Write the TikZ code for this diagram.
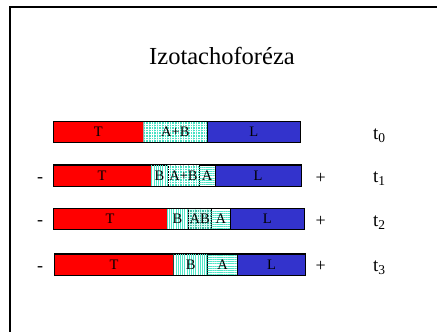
\documentclass[tikz,border=0pt]{standalone}
\usepackage{fontspec}
\setmainfont{Liberation Serif}
\usetikzlibrary{patterns.meta}
\definecolor{tred}{RGB}{255,0,0}
\definecolor{lblue}{RGB}{51,51,204}
\definecolor{turq}{RGB}{70,225,195}
\definecolor{turqline}{RGB}{80,230,200}
\tikzset{
  seg/.style={draw=black,line width=0.6pt,minimum height=21pt,inner sep=0pt,
    font=\fontsize{14.5}{14.5}\selectfont,text=black},
  redseg/.style={fill=tred},
  blueseg/.style={fill=lblue},
  mixseg/.style={fill=turq,postaction={pattern={Hatch[angle=0,distance=2.6pt,line width=0.6pt]},pattern color=white}},
  mixdense/.style={fill=turq!85!black,postaction={pattern={Hatch[angle=0,distance=2.4pt,line width=0.5pt]},pattern color=white!80!turq}},
  bseg/.style={fill=white,postaction={pattern={Lines[angle=90,distance=2.2pt,line width=0.8pt]},pattern color=turqline}},
  aseg/.style={fill=white,postaction={pattern={Lines[angle=0,distance=2.2pt,line width=0.8pt]},pattern color=turqline}},
  barline/.style={draw=black,line width=0.9pt},
  sign/.style={font=\fontsize{18}{18}\selectfont,anchor=base,inner sep=0pt},
  tlab/.style={font=\fontsize{19}{19}\selectfont,anchor=base west,inner sep=0pt},
  frame/.style={draw=black,line width=1.6pt}
}
\newcommand\seg[6]{%
  \pgfmathsetmacro\segw{#3-#2}%
  \node[seg,#5,minimum width=\segw pt,anchor=north west] (#1) at (#2,#4) {#6};}
\newcommand\tsub[1]{t\raisebox{-3pt}{\fontsize{13.5}{14}\selectfont #1}}
\begin{document}
\begin{tikzpicture}[x=1pt,y=-1pt]
\useasboundingbox (0,0) rectangle (437,332);
\coordinate (fr) at (437,7);
\coordinate (fc) at (10,7);
\coordinate (fb) at (10,332);
\draw[frame] (fr) -- (fc) -- (fb);
\node[font=\fontsize{24.5}{28}\selectfont,anchor=base,inner sep=0pt] (title) at (222,64) {Izotachoforéza};
% bar 0
\seg{t0T}{53}{143}{121}{redseg}{T}
\seg{t0AB}{143}{207}{121}{mixseg}{A+B}
\seg{t0L}{207}{300}{121}{blueseg}{L}
\draw[barline] (t0T.north west) rectangle (t0L.south east);
% bar 1
\seg{t1T}{53}{150.7}{164.5}{redseg}{T}
\seg{t1B}{150.7}{167.7}{164.5}{bseg}{B}
\seg{t1AB}{167.7}{198.7}{164.5}{mixseg}{A+B}
\seg{t1A}{198.7}{214.7}{164.5}{aseg}{A}
\seg{t1L}{214.7}{300.7}{164.5}{blueseg}{L}
\draw[barline] (t1T.north west) rectangle (t1L.south east);
% bar 2
\seg{t2T}{53}{166.7}{208}{redseg}{T}
\seg{t2B}{166.7}{187.7}{208}{bseg}{B}
\seg{t2AB}{187.7}{211}{208}{mixdense}{AB}
\seg{t2A}{211}{230}{208}{aseg}{A}
\seg{t2L}{230}{304}{208}{blueseg}{L}
\draw[barline] (t2T.north west) rectangle (t2L.south east);
% bar 3
\seg{t3T}{54}{173.3}{253.5}{redseg}{T}
\seg{t3B}{173.3}{207.3}{253.5}{bseg}{B}
\seg{t3A}{207.3}{237.3}{253.5}{aseg}{A}
\seg{t3L}{237.3}{305}{253.5}{blueseg}{L}
\draw[barline] (t3T.north west) rectangle (t3L.south east);
% signs
\node[sign] (m1) at (40,182) {-};
\node[sign] (m2) at (40,225) {-};
\node[sign] (m3) at (40,271) {-};
\node[sign] (p1) at (320.7,183) {+};
\node[sign] (p2) at (320.7,226.5) {+};
\node[sign] (p3) at (320.7,271) {+};
% time labels
\node[tlab] (l0) at (373,139) {\tsub{0}};
\node[tlab] (l1) at (373,182.5) {\tsub{1}};
\node[tlab] (l2) at (373,226) {\tsub{2}};
\node[tlab] (l3) at (373,271) {\tsub{3}};
\end{tikzpicture}
\end{document}
